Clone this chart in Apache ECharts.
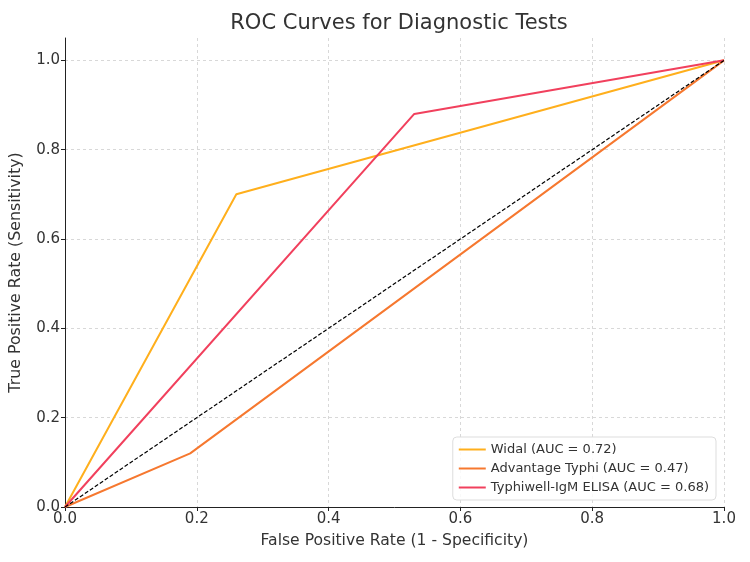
<!DOCTYPE html>
<html>
<head>
<meta charset="utf-8">
<script src="https://cdn.jsdelivr.net/npm/echarts@6/dist/echarts.min.js"></script>
<style>
  html, body { margin: 0; padding: 0; background: #fff; }
  #chart { width: 750px; height: 562px; }
</style>
</head>
<body>
<div id="chart"></div>
<script>
// ROC points (FPR, TPR)
const seriesNames = ['Widal (AUC = 0.72)', 'Advantage Typhi (AUC = 0.47)', 'Typhiwell-IgM ELISA (AUC = 0.68)'];
const widalPts = [[0, 0], [0.26, 0.70], [1, 1]];
const advantagePts = [[0, 0], [0.19, 0.12], [1, 1]];
const typhiwellPts = [[0, 0], [0.53, 0.88], [1, 1]];
const chancePts = [[0, 0], [1, 1]];
const colors = ['#FFAF1C', '#F6782F', '#F1405D'];

const chart = echarts.init(document.getElementById('chart'));
const font = 'DejaVu Sans';
const gridCol = '#cfcfcf';

function lineSeries(name, pts, color) {
  return {
    name: name,
    type: 'line',
    data: pts,
    showSymbol: false,
    symbol: 'none',
    lineStyle: {color: color, width: 2},
    itemStyle: {color: color},
    animation: false
  };
}

const option = {
  animation: false,
  title: {
    text: 'ROC Curves for Diagnostic Tests',
    left: 394,
    textAlign: 'center',
    top: 8,
    textStyle: {fontFamily: font, fontSize: 21, fontWeight: 'normal', color: '#333'}
  },
  grid: {left: 64, right: 26, top: 38, bottom: 55},
  legend: {
    orient: 'vertical',
    right: 34,
    bottom: 62,
    itemWidth: 27,
    itemHeight: 2,
    itemGap: 6,
    padding: [6, 7, 6, 6],
    borderColor: '#ddd',
    borderWidth: 1,
    borderRadius: 4,
    backgroundColor: 'rgba(255,255,255,0.85)',
    icon: 'rect',
    data: seriesNames,
    textStyle: {fontFamily: font, fontSize: 13, color: '#333'}
  },
  xAxis: {
    type: 'value',
    min: 0,
    max: 1,
    interval: 0.2,
    name: 'False Positive Rate (1 - Specificity)',
    nameLocation: 'middle',
    nameGap: 26,
    nameTextStyle: {fontFamily: font, fontSize: 15.6, color: '#333'},
    axisLine: {show: true, lineStyle: {color: '#222', width: 1}},
    axisTick: {show: true, inside: false, length: 4, lineStyle: {color: '#222'}},
    axisLabel: {fontFamily: font, fontSize: 15, color: '#333', margin: 5,
      formatter: v => v.toFixed(1)},
    splitLine: {show: true, lineStyle: {color: gridCol, type: [3, 3], width: 0.8}}
  },
  yAxis: {
    type: 'value',
    min: 0,
    max: 1.05,
    interval: 0.2,
    name: 'True Positive Rate (Sensitivity)',
    nameLocation: 'middle',
    nameGap: 41,
    nameTextStyle: {fontFamily: font, fontSize: 15.8, color: '#333'},
    axisLine: {show: true, lineStyle: {color: '#222', width: 1}},
    axisTick: {show: true, inside: false, length: 4, lineStyle: {color: '#222'}},
    axisLabel: {fontFamily: font, fontSize: 15, color: '#333', margin: 5,
      showMaxLabel: false,
      formatter: v => (Math.abs(v * 5 - Math.round(v * 5)) < 1e-6 ? v.toFixed(1) : '')},
    // the extra line at the 1.05 top edge is painted white
    splitLine: {show: true, lineStyle: {
      color: [gridCol, gridCol, gridCol, gridCol, gridCol, gridCol, '#fff'],
      type: [3, 3], width: 0.8}}
  },
  series: [
    lineSeries(seriesNames[0], widalPts, colors[0]),
    lineSeries(seriesNames[1], advantagePts, colors[1]),
    lineSeries(seriesNames[2], typhiwellPts, colors[2]),
    {
      name: 'chance',
      type: 'line',
      data: chancePts,
      showSymbol: false,
      symbol: 'none',
      lineStyle: {color: '#000', width: 1.2, type: [4, 2]},
      z: 5
    }
  ]
};

chart.setOption(option);
</script>
</body>
</html>
